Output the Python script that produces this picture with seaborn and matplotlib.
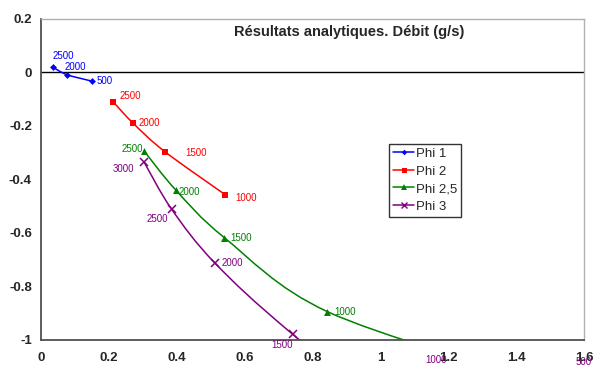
import numpy as np
import pandas as pd
import seaborn as sns
import matplotlib.pyplot as plt
from matplotlib.path import Path
from matplotlib.patches import PathPatch
from matplotlib.lines import Line2D

# values (x, y) with speed labels
phi1_x = [0.035, 0.076, 0.149]
phi1_y = [0.020, -0.008, -0.032]
phi1_lab = ['2500', '2000', '500']

phi2_x = [0.213, 0.271, 0.365, 0.543]
phi2_y = [-0.110, -0.189, -0.296, -0.457]
phi2_lab = ['2500', '2000', '1500', '1000']

phi25_x = [0.303, 0.397, 0.540, 0.844, 1.45]
phi25_y = [-0.292, -0.439, -0.617, -0.894, -1.15]
phi25_lab = ['2500', '2000', '1500', '1000', '']

phi3_x = [0.303, 0.385, 0.513, 0.742, 1.25, 1.90]
phi3_y = [-0.333, -0.511, -0.713, -0.979, -1.50, -2.30]
phi3_lab = ['3000', '2500', '2000', '1500', '1000', '500']

series = ['Phi 1', 'Phi 2', 'Phi 2,5', 'Phi 3']
xs = [phi1_x, phi2_x, phi25_x, phi3_x]
ys = [phi1_y, phi2_y, phi25_y, phi3_y]
labs = [phi1_lab, phi2_lab, phi25_lab, phi3_lab]

x_ticks = [0, 0.2, 0.4, 0.6, 0.8, 1, 1.2, 1.4, 1.6]
y_ticks = [-1, -0.8, -0.6, -0.4, -0.2, 0, 0.2]

df = pd.concat([pd.DataFrame({'x': x, 'y': y, 'serie': s, 'label': l})
                for s, x, y, l in zip(series, xs, ys, labs)], ignore_index=True)

colors = {'Phi 1': '#0000ff', 'Phi 2': '#ff0000', 'Phi 2,5': '#008000', 'Phi 3': '#800080'}
markers = {'Phi 1': 'D', 'Phi 2': 's', 'Phi 2,5': '^', 'Phi 3': 'X'}
msize = {'Phi 1': 3.5, 'Phi 2': 4.5, 'Phi 2,5': 5, 'Phi 3': 6}

# label offsets in pixels (dx, dy, ha) per series
offsets = {
    'Phi 1': [(0, 11, 'left'), (-2, 8, 'left'), (5, 0, 'left')],
    'Phi 2': [(6, 6, 'left'), (6, 0, 'left'), (20, -1, 'left'), (10, -3, 'left')],
    'Phi 2,5': [(-1, 2, 'right'), (3, -2, 'left'), (6, 0, 'left'), (7, 0, 'left'), (0, 0, 'left')],
    'Phi 3': [(-10, -7, 'right'), (-4, -10, 'right'), (6, 0, 'left'), (0, -11, 'right'),
              (-29, -20, 'center'), (0, -22, 'center')],
}

sns.set_style('white')
plt.rcParams['font.family'] = ['Liberation Sans', 'DejaVu Sans']

fig = plt.figure(figsize=(5.93, 3.65), dpi=100)
ax = fig.add_axes([0.0691, 0.0685, 0.9157, 0.8795])
ax.set_xlim(0, 1.6)
ax.set_ylim(-1, 0.2)


def smooth_path(x, y):
    # excel-like smoothed line: bezier segments through the points
    p = np.column_stack([x, y])
    n = len(p)
    verts = [p[0]]
    codes = [Path.MOVETO]
    for i in range(n - 1):
        p0, p1, p2, p3 = p[max(i - 1, 0)], p[i], p[i + 1], p[min(i + 2, n - 1)]
        verts += [p1 + (p2 - p0) / 6, p2 - (p3 - p1) / 6, p2]
        codes += [Path.CURVE4] * 3
    return Path(verts, codes)


ax.axhline(0, color='black', lw=1, zorder=1)

for s, x, y in zip(series, xs, ys):
    ax.add_patch(PathPatch(smooth_path(x, y), fill=False, edgecolor=colors[s], lw=1.1, zorder=2))
    sub = df[df.serie == s]
    m = markers[s]
    if m == 'X':
        ax.plot(sub.x, sub.y, ls='none', marker='x', ms=msize[s], mew=1.1, color=colors[s], zorder=3)
    else:
        sns.scatterplot(data=sub, x='x', y='y', marker=m, s=msize[s] ** 2, color=colors[s],
                        edgecolor=colors[s], linewidth=0, ax=ax, zorder=3, legend=False)

px = 0.72  # points per pixel at 100 dpi
for s, x, y, lab in zip(series, xs, ys, labs):
    for (xi, yi, t), (dx, dy, ha) in zip(zip(x, y, lab), offsets[s]):
        if not t:
            continue
        if yi < -1:
            # off-chart labels get pinned below the axis like in excel
            xi, yi = min(xi, 1.6), -1
        ax.annotate(t, (xi, yi), xytext=(dx * px, dy * px), textcoords='offset points',
                    ha=ha, va='center', fontsize=7, color=colors[s],
                    annotation_clip=False, zorder=4)

ax.set_xticks(x_ticks)
ax.set_yticks(y_ticks)
ax.set_xticklabels([f'{v:g}' for v in x_ticks], fontweight='bold', fontsize=9.5)
ax.set_yticklabels([f'{v:g}' for v in y_ticks], fontweight='bold', fontsize=9.5)
ax.tick_params(axis='both', direction='out', length=3.5, width=1, color='#404040', pad=3)
ax.tick_params(axis='x', pad=5)
ax.set_xlabel('')
ax.set_ylabel('')

for side in ['left', 'bottom']:
    ax.spines[side].set_color('#505050')
    ax.spines[side].set_linewidth(1.3)
for side in ['top', 'right']:
    ax.spines[side].set_color('#b0b0b0')
    ax.spines[side].set_linewidth(1)

ax.text(0.568, 0.96, 'Résultats analytiques. Débit (g/s)', transform=ax.transAxes,
        ha='center', va='center', fontsize=10.5, fontweight='bold')

handles = [Line2D([], [], color=colors[s], lw=1.1,
                  marker='x' if markers[s] == 'X' else markers[s],
                  ms=msize[s] * 0.8, mew=1 if markers[s] == 'X' else 0, mfc=colors[s])
           for s in series]
leg = ax.legend(handles, series, loc='upper left', bbox_to_anchor=(0.641, 0.611),
                frameon=True, fancybox=False, fontsize=9.5, handlelength=1.6,
                handletextpad=0.15, borderpad=0.3, labelspacing=0.4, borderaxespad=0)
leg.get_frame().set_edgecolor('black')
leg.get_frame().set_linewidth(1)

fig.savefig('out.png', dpi=100)
